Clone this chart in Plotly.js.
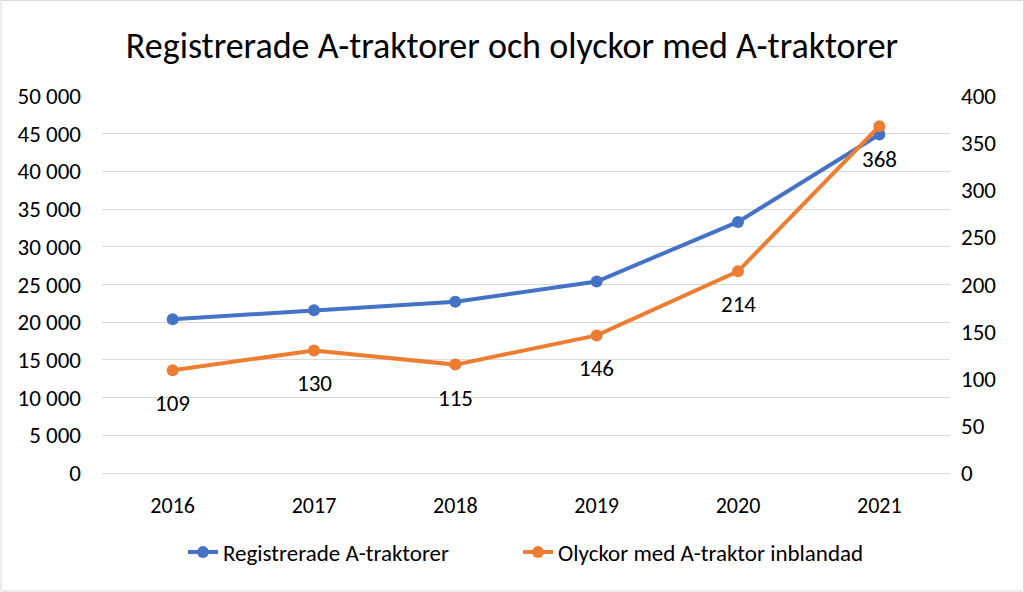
<!DOCTYPE html>
<html>
<head>
<meta charset="utf-8">
<script src="https://cdn.plot.ly/plotly-3.0.1.min.js"></script>
<style>
html,body{margin:0;padding:0;background:#fff;}
#chart{width:1024px;height:592px;}
</style>
</head>
<body>
<div id="chart"></div>
<script>
const years = ['2016','2017','2018','2019','2020','2021'];
const registrerade = [20400, 21600, 22700, 25400, 33300, 44900];
const olyckor = [109, 130, 115, 146, 214, 368];
const leftTicks = [0,5000,10000,15000,20000,25000,30000,35000,40000,45000,50000];
const rightTicks = [0,50,100,150,200,250,300,350,400];

const blue = '#4472C4', orange = '#ED7D31';
const font = 'Carlito, Calibri, sans-serif';
const fs = 23;

const traces = [
  {x: years, y: registrerade, name: 'Registrerade A-traktorer', type: 'scatter', mode: 'lines+markers',
   line: {color: blue, width: 4}, marker: {color: blue, size: 12}, yaxis: 'y', legend: 'legend'},
  {x: years, y: olyckor, name: 'Olyckor med A-traktor inblandad', type: 'scatter', mode: 'lines+markers',
   line: {color: orange, width: 4}, marker: {color: orange, size: 12}, xaxis: 'x', yaxis: 'y2', legend: 'legend2'}
];

const annotations = years.map((yr, i) => ({
  x: i, y: olyckor[i], xref: 'x', yref: 'y2', text: String(olyckor[i]), showarrow: false,
  yshift: -33, font: {size: fs, color: '#000', family: font}
}));

const layout = {
  width: 1024, height: 592,
  margin: {l: 102, r: 74, t: 96, b: 119},
  paper_bgcolor: '#fff', plot_bgcolor: '#fff',
  separators: ', ',
  font: {family: font, size: fs, color: '#000'},
  title: {text: 'Registrerade A-traktorer och olyckor med A-traktorer', font: {size: 36, family: font, color: '#000'},
          x: 0.5, xanchor: 'center', y: 0.924, yanchor: 'middle'},
  xaxis: {type: 'category', range: [-0.5, 5.5], showgrid: false, zeroline: false, showline: false, ticks: '',
          tickfont: {size: 22}, ticklabelstandoff: 17},
  yaxis: {range: [0, 50000], tickvals: leftTicks, tickformat: ',d', showgrid: true, gridcolor: '#d9d9d9', gridwidth: 1,
          zeroline: true, zerolinecolor: '#d9d9d9', zerolinewidth: 1, showline: false, ticks: '', tickfont: {size: fs}, ticklabelstandoff: 20},
  yaxis2: {range: [0, 400], tickvals: rightTicks, overlaying: 'y', side: 'right', showgrid: false, zeroline: false,
           showline: false, ticks: '', tickfont: {size: fs}, ticklabelstandoff: 10},
  legend: {orientation: 'h', x: 0.0955, xanchor: 'left', y: -0.21, yanchor: 'middle', font: {size: fs}},
  legend2: {orientation: 'h', x: 0.4906, xanchor: 'left', y: -0.21, yanchor: 'middle', font: {size: fs}},
  showlegend: true,
  annotations: annotations,
  shapes: [{type: 'rect', xref: 'paper', yref: 'paper', x0: -0.1191, x1: 1.0867, y0: -0.3130, y1: 1.2533,
            line: {color: '#d9d9d9', width: 1}}]
};

Plotly.newPlot('chart', traces, layout, {displayModeBar: false, staticPlot: true});
</script>
</body>
</html>
